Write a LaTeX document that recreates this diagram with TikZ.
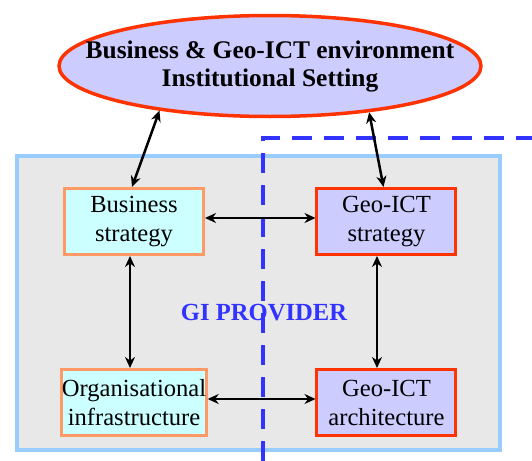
\documentclass[tikz,border=0pt]{standalone}
\usepackage{fontspec}
\setmainfont{Liberation Serif}
\usepackage{xcolor}
\usetikzlibrary{positioning,arrows.meta,shapes.geometric}

\definecolor{envfill}{HTML}{CCCCFF}
\definecolor{ictline}{HTML}{FF3300}
\definecolor{bizfill}{HTML}{CCFFFF}
\definecolor{bizline}{HTML}{FF9966}
\definecolor{panelfill}{HTML}{E8E8E8}
\definecolor{panelline}{HTML}{99CCFF}
\definecolor{gipblue}{HTML}{3333FF}

\begin{document}
\begin{tikzpicture}[x=0.5pt, y=-0.5pt, on grid, auto,
    box/.style={rectangle, draw, line width=1.5pt, minimum width=69.5pt,
        minimum height=33pt, inner sep=0pt, align=center,
        font=\fontsize{12.3}{14.5}\selectfont},
    bizbox/.style={box, draw=bizline, fill=bizfill},
    ictbox/.style={box, draw=ictline, fill=envfill},
    link/.style={{Stealth[length=5.5pt,width=5pt]}-{Stealth[length=5.5pt,width=5pt]},
        line width=1.25pt}]

    \useasboundingbox (0,0) rectangle (532,461);

    % GI provider panel
    \draw[draw=panelline, fill=panelfill, line width=2pt] (17,156) rectangle (500,450);
    \node[font=\bfseries\fontsize{12.3}{14.5}\selectfont, text=gipblue] (gip) at (264,313) {GI PROVIDER};
    \draw[gipblue, line width=2pt, dash pattern=on 10pt off 6pt] (263,461) -- (263,138) -- (532,138);

    \node[ellipse, draw=ictline, fill=envfill, line width=1.75pt, minimum width=211pt,
        minimum height=50.5pt, inner sep=0pt,
        label={[font=\bfseries\fontsize{12.7}{14}\selectfont, align=center]center:Business \& Geo-ICT environment\\Institutional Setting}]
        (env) at (270,66) {};

    \node[bizbox] (bs) at (134,221.5) {Business\\strategy};
    \node[ictbox] (gs) [right=126.25pt of bs] {Geo-ICT\\strategy};
    \node[bizbox] (oi) [below=90.5pt of bs] {Organisational\\infrastructure};
    \node[ictbox] (ga) [below=90.5pt of gs] {Geo-ICT\\architecture};

    \path[link]
        (env.202) edge ([xshift=-1pt]bs.north)
        (env.335) edge ([xshift=-1.5pt]gs.north)
        ([yshift=1.75pt]bs.east) edge ([yshift=1.75pt]gs.west)
        ([yshift=1.75pt]oi.east) edge ([yshift=1.75pt]ga.west)
        ([xshift=-2pt]bs.south) edge ([xshift=-2pt]oi.north)
        ([xshift=-4.75pt]gs.south) edge ([xshift=-4.75pt]ga.north);

\end{tikzpicture}
\end{document}
